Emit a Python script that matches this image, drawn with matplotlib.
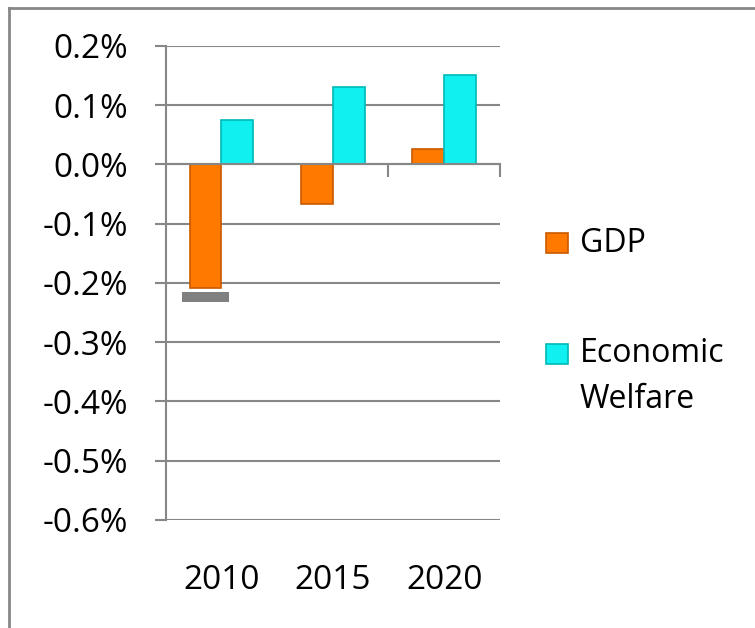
import matplotlib
matplotlib.use("Agg")
from matplotlib import pyplot as plt
from matplotlib.patches import Rectangle
from matplotlib.lines import Line2D
from matplotlib.ticker import FuncFormatter, FixedLocator
import numpy as np

# datos (en %)
years = ["2010", "2015", "2020"]
gdp = [-0.208, -0.067, 0.026]
welfare = [0.075, 0.130, 0.151]
series_names = ["GDP", "Economic\nWelfare"]
yticks = [-0.6, -0.5, -0.4, -0.3, -0.2, -0.1, 0.0, 0.1, 0.2]

plt.rcParams['font.family'] = ['Open Sans', 'DejaVu Sans']
grey = '#878787'
orange, orange_edge = '#FF7800', '#C85A00'
cyan, cyan_edge = '#10F0F0', '#00B8B8'

fig = plt.figure(figsize=(7.55, 6.28), dpi=100)
ax = fig.add_axes([0.2195, 0.172, 0.4425, 0.7548])

x = np.arange(len(years))
w = 0.285
ax.bar(x - w/2, gdp, w, color=orange, edgecolor=orange_edge, linewidth=1.2, zorder=3)
ax.bar(x + w/2, welfare, w, color=cyan, edgecolor=cyan_edge, linewidth=1.2, zorder=3)
# sombra gris bajo la barra de 2010
ax.bar(x[0] - w/2, -0.016, 0.42, bottom=gdp[0] - 0.008, color='#808080', zorder=2)

ax.set_xlim(-0.5, len(years) - 0.5)
ax.set_ylim(yticks[0], yticks[-1])
ax.set_yticks(yticks)
ax.yaxis.set_major_formatter(FuncFormatter(lambda v, p: f"{v:.1f}%"))
ax.grid(True, axis='y', color=grey, linewidth=1.5, zorder=0)
ax.tick_params(axis='y', direction='out', length=8, width=1.5, color=grey,
               labelsize=24, pad=19)

# eje x en el cero
for s in ['top', 'right']:
    ax.spines[s].set_visible(False)
ax.spines['left'].set_color(grey)
ax.spines['left'].set_linewidth(1.5)
ax.spines['bottom'].set_position(('data', 0))
ax.spines['bottom'].set_color(grey)
ax.spines['bottom'].set_linewidth(1.5)
ax.spines['bottom'].set_zorder(4)
ax.xaxis.set_major_locator(FixedLocator([]))
ax.xaxis.set_minor_locator(FixedLocator(x[1:] + 0.5))
ax.tick_params(axis='x', which='minor', direction='out', length=9, width=1.5, color=grey)

for i, yr in enumerate(years):
    ax.text(i, -0.127, yr, transform=ax.get_xaxis_transform(),
            ha='center', va='center', fontsize=24)

# leyenda
leg_y = [243, 354]
for name, c, ec, yy in zip(series_names, [orange, cyan], [orange_edge, cyan_edge], leg_y):
    fig.add_artist(Rectangle((546/755, 1 - (yy + 10)/628), 22/755, 20/628,
                             facecolor=c, edgecolor=ec, linewidth=1.2))
    for k, line in enumerate(name.split("\n")):
        fig.text(580/755, 1 - (yy + 45*k)/628, line, ha='left', va='center',
                 fontsize=23)

# borde
fig.add_artist(Line2D([9/755, 9/755], [-0.1, 1 - 8/628], color=grey, linewidth=2))
fig.add_artist(Line2D([9/755, 1.1], [1 - 8/628, 1 - 8/628], color=grey, linewidth=2))

fig.savefig("out.png", dpi=100)
